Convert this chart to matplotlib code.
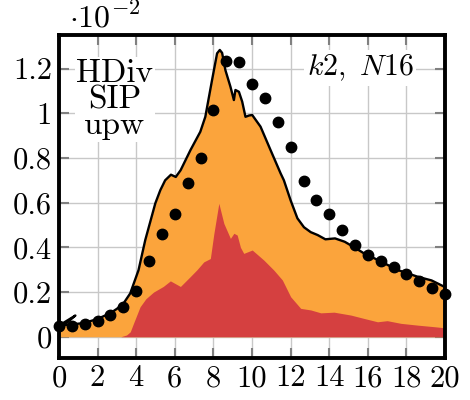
import matplotlib
matplotlib.use("Agg")
import matplotlib.pyplot as plt

plt.rcParams['font.family'] = 'serif'
plt.rcParams['font.serif'] = ['cmr10']
plt.rcParams['mathtext.fontset'] = 'cm'
plt.rcParams['axes.formatter.use_mathtext'] = True

# Orange envelope (total)
total_x = [0, 0.67, 1.33, 2.0, 2.65, 3.0, 3.34, 3.69, 4.12, 4.47, 4.99, 5.25, 5.5, 5.8,
           6.05, 6.3, 6.81, 7.32, 7.58, 7.93, 8.19, 8.33, 8.45, 8.62, 8.88, 9.06, 9.14,
           9.32, 9.49, 9.66, 9.85, 10.01, 10.44, 10.96, 11.48, 11.65, 12.0, 12.35, 12.69,
           13.04, 13.4, 13.8, 14.3, 14.8, 15.3, 15.8, 16.7, 17.5, 18.6, 19.3, 20.0]
total_y = [0.05, 0.055, 0.062, 0.08, 0.105, 0.125, 0.149, 0.194, 0.298, 0.433, 0.597, 0.656,
           0.70, 0.725, 0.715, 0.745, 0.835, 0.917, 0.984, 1.149, 1.268, 1.283, 1.27, 1.193,
           1.119, 1.059, 1.104, 1.096, 1.052, 0.984, 0.99, 0.992, 0.94, 0.835, 0.731, 0.70,
           0.61, 0.53, 0.49, 0.468, 0.455, 0.436, 0.44, 0.425, 0.40, 0.373, 0.336, 0.30,
           0.268, 0.252, 0.222]
# small initial spike of the outline
spike_x = [0, 0.85, 0.3]
spike_y = [0.05, 0.095, 0.055]

# Red part
red_x = [0, 3.2, 3.5, 3.69, 3.86, 4.2, 4.5, 4.9, 5.4, 5.77, 6.29, 6.81, 7.15, 7.5, 7.84,
         8.02, 8.28, 8.54, 8.88, 9.06, 9.23, 9.4, 9.57, 10.01, 10.61, 11.13, 11.57, 12.0,
         12.52, 13.04, 13.56, 14.25, 15.12, 15.8, 16.5, 17.0, 17.71, 18.58, 19.44, 20.0]
red_y = [0, 0, 0.008, 0.022, 0.06, 0.134, 0.17, 0.20, 0.225, 0.25, 0.225, 0.27, 0.30,
         0.335, 0.35, 0.46, 0.597, 0.507, 0.44, 0.463, 0.455, 0.40, 0.373, 0.388, 0.343,
         0.298, 0.254, 0.179, 0.127, 0.12, 0.107, 0.11, 0.097, 0.082, 0.067, 0.072, 0.06,
         0.052, 0.045, 0.04]

# Reference dots
dot_x = [i * 20 / 30 for i in range(31)]
dot_y = [0.049, 0.049, 0.057, 0.072, 0.097, 0.133, 0.204, 0.339, 0.46, 0.548, 0.689,
         0.80, 1.014, 1.232, 1.228, 1.129, 1.069, 0.959, 0.849, 0.695, 0.612, 0.55,
         0.477, 0.41, 0.367, 0.34, 0.313, 0.28, 0.248, 0.216, 0.19]

xticks = [0, 2, 4, 6, 8, 10, 12, 14, 16, 18, 20]
yticks = [0, 0.2, 0.4, 0.6, 0.8, 1.0, 1.2]
yticklabels = ['0', '0.2', '0.4', '0.6', '0.8', '1', '1.2']

fig = plt.figure(figsize=(4.7, 4.0), dpi=100)
ax = fig.add_axes([0.1255, 0.105, 0.8215, 0.8075])

ax.fill_between(total_x, 0, total_y, color='#FBA43C', linewidth=0, zorder=2)
ax.fill_between(red_x, 0, red_y, color='#D54040', linewidth=0, zorder=3)
ax.plot(total_x, total_y, color='black', linewidth=1.7, zorder=4)
ax.plot(spike_x, spike_y, color='black', linewidth=1.7, zorder=4)
ax.plot(dot_x, dot_y, 'o', color='black', markersize=7.5, linestyle='none', zorder=5,
        clip_on=False)

ax.set_xlim(0, 20)
ax.set_ylim(-0.095, 1.35)
ax.set_xticks(xticks)
ax.set_xticklabels([str(t) for t in xticks])
ax.set_yticks(yticks)
ax.set_yticklabels(yticklabels)
ax.grid(True, color='#c8c8c8', linewidth=1.0, zorder=0)
ax.set_axisbelow(True)
ax.tick_params(direction='in', length=7, width=1.5, color='#808080', top=True, right=True,
               labelsize=22, pad=5)
for s in ax.spines.values():
    s.set_linewidth(2.8)
    s.set_color('black')
    s.set_zorder(6)

ax.text(0.145, 0.80, 'HDiv\nSIP\nupw', transform=ax.transAxes, ha='center', va='center',
        fontsize=24, linespacing=0.88, zorder=7,
        bbox=dict(facecolor='white', edgecolor='none', pad=1))
ax.text(0.78, 0.898, r'$k2,\ N16$', transform=ax.transAxes, ha='center', va='center',
        fontsize=21.5, zorder=7, bbox=dict(facecolor='white', edgecolor='none', pad=2))
fig.text(0.222, 0.957, r'$\cdot 10^{-2}$', ha='center', va='center', fontsize=23)

fig.savefig('out.png', dpi=100)
